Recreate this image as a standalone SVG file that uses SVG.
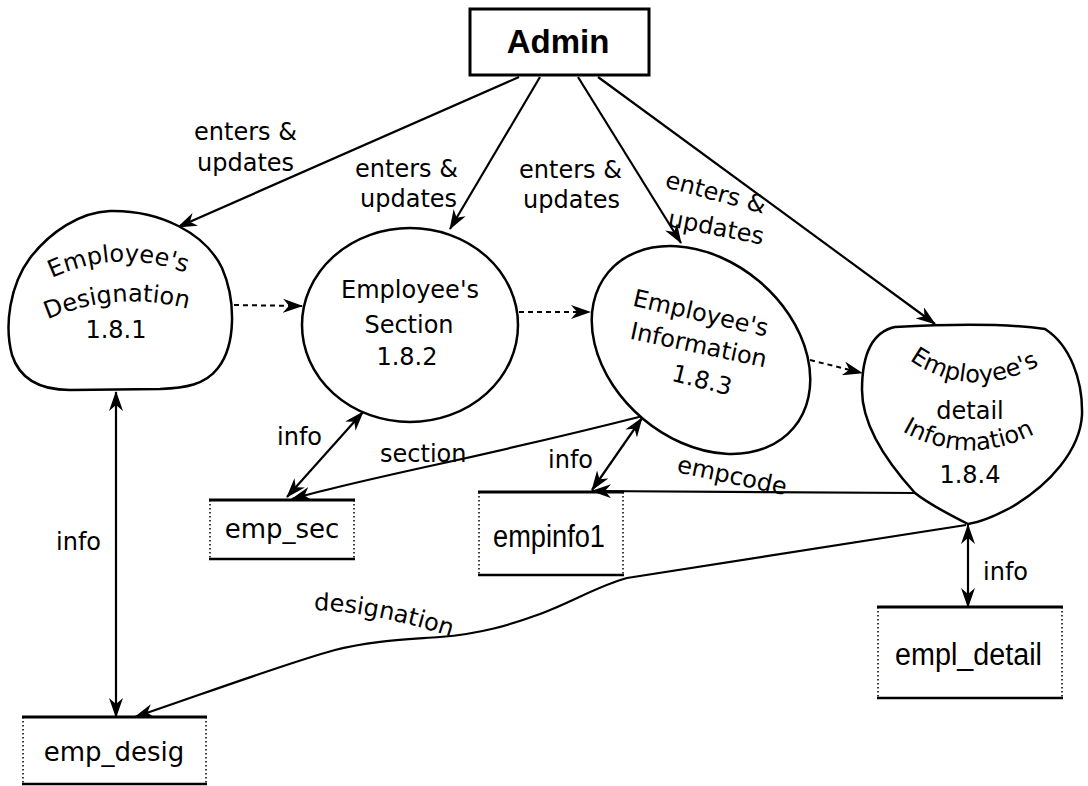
<svg xmlns="http://www.w3.org/2000/svg" width="1088" height="786" viewBox="0 0 1088 786">
<defs>
<style>
.t{font-family:"DejaVu Sans","Liberation Sans",sans-serif;font-size:24px;fill:#000}
.st{font-family:"DejaVu Sans","Liberation Sans",sans-serif;font-size:26px;fill:#000}
.nar{font-family:"Liberation Sans","DejaVu Sans",sans-serif;font-size:31px;fill:#000}
.node{fill:#fff;stroke:#000;stroke-width:2.5}
.flow{fill:none;stroke:#000;stroke-width:2.2}
.dash{fill:none;stroke:#000;stroke-width:2;stroke-dasharray:5 4}
.stop{stroke:#000;stroke-width:3}
.sbot{stroke:#000;stroke-width:2.5}
.sside{stroke:#000;stroke-width:1.5;stroke-dasharray:1.5 2.5}
</style>
<marker id="ah" viewBox="0 0 20 14" refX="19" refY="7" markerWidth="20" markerHeight="14" markerUnits="userSpaceOnUse" orient="auto-start-reverse">
<path d="M0,0 L20,7 L0,14 L6,7 Z" fill="#000"/>
</marker>
<path id="p1a" d="M 42 283 Q 118 243 196 277"/>
<path id="p1b" d="M 40 323 Q 115 287 196 311"/>
<path id="p4a" d="M 898 351 Q 968 410 1052 358"/>
<path id="p4b" d="M 895 427 Q 967 472 1042 430"/>
<path id="pdes" d="M 314 610 Q 380 612 464 641"/>
</defs>
<rect width="1088" height="786" fill="#fff"/>

<g id="connectors">
<path class="flow" d="M 519 77 L 178 227" marker-end="url(#ah)"/>
<path class="flow" d="M 540 77 L 450 229" marker-end="url(#ah)"/>
<path class="flow" d="M 578 77 L 681 243" marker-end="url(#ah)"/>
<path class="flow" d="M 598 77 L 935 324" marker-end="url(#ah)"/>
<path class="dash" d="M 234 305 L 302 306" marker-end="url(#ah)"/>
<path class="dash" d="M 519 312 L 590 312" marker-end="url(#ah)"/>
<path class="dash" d="M 810 360 L 862 373" marker-end="url(#ah)"/>
<path class="flow" d="M 116 392 L 116 717" marker-start="url(#ah)" marker-end="url(#ah)"/>
<path class="flow" d="M 363 412 L 287 497" marker-start="url(#ah)" marker-end="url(#ah)"/>
<path class="flow" d="M 643 416 C 560 437 480 455 430 466 C 380 477 330 488 292 499" marker-end="url(#ah)"/>
<path class="flow" d="M 642 418 L 592 490" marker-start="url(#ah)" marker-end="url(#ah)"/>
<path class="flow" d="M 915 493 L 592 491" marker-end="url(#ah)"/>
<path class="flow" d="M 966 525 L 627 578 C 600 585 570 603 540 614 C 510 625 480 634 440 637 C 400 640 370 641 335 650 C 290 662 200 695 135 717" marker-end="url(#ah)"/>
<path class="flow" d="M 968 525 L 968 607" marker-start="url(#ah)" marker-end="url(#ah)"/>

<text class="t" x="194" y="140">enters &amp;</text>
<text class="t" x="197" y="171">updates</text>
<text class="t" x="355" y="177">enters &amp;</text>
<text class="t" x="360" y="207">updates</text>
<text class="t" x="519" y="178">enters &amp;</text>
<text class="t" x="523" y="208">updates</text>
<text class="t" transform="translate(664,187) rotate(15)">enters &amp;</text>
<text class="t" transform="translate(667,226) rotate(11)">updates</text>
<text class="t" x="56" y="550">info</text>
<text class="t" x="277" y="445">info</text>
<text class="t" x="380" y="462">section</text>
<text class="t" x="548" y="468">info</text>
<text class="t" transform="translate(676,472) rotate(12)">empcode</text>
<text class="t"><textPath href="#pdes">designation</textPath></text>
<text class="t" x="983" y="580">info</text>
</g>

<g id="admin">
<rect x="470" y="9" width="179" height="66" fill="#fff" stroke="#000" stroke-width="3"/>
<text x="558" y="53" text-anchor="middle" font-family="Liberation Sans, Arial, sans-serif" font-weight="bold" font-size="33">Admin</text>
</g>

<g id="p181">
<path class="node" d="M 110 211 C 160 210 205 233 222 268 C 236 300 236 345 218 368 C 205 385 185 388 160 389 L 70 390 C 40 390 20 380 12 355 C 4 325 10 285 30 258 C 50 232 80 212 110 211 Z"/>
<text class="t" text-anchor="middle"><textPath href="#p1a" startOffset="50%">Employee's</textPath></text>
<text class="t" text-anchor="middle"><textPath href="#p1b" startOffset="50%">Designation</textPath></text>
<text class="t" x="116" y="338" text-anchor="middle">1.8.1</text>
</g>

<g id="p182">
<ellipse class="node" cx="410" cy="325" rx="108" ry="97"/>
<text class="t" x="410" y="298" text-anchor="middle">Employee's</text>
<text class="t" x="409" y="333" text-anchor="middle">Section</text>
<text class="t" x="407" y="365" text-anchor="middle">1.8.2</text>
</g>

<g id="p183">
<ellipse class="node" cx="701" cy="350" rx="121" ry="90" transform="rotate(40 701 350)"/>
<text class="t" text-anchor="middle" transform="translate(699,321) rotate(13)">Employee's</text>
<text class="t" text-anchor="middle" transform="translate(697,353) rotate(12)">Information</text>
<text class="t" text-anchor="middle" transform="translate(700,388) rotate(14)">1.8.3</text>
</g>

<g id="p184">
<path class="node" d="M 895 327 C 950 324 1010 324 1045 329 C 1070 345 1083 380 1082 415 C 1080 450 1050 485 1010 508 C 995 516 982 522 968 524 C 950 515 930 505 915 493 C 885 460 862 425 862 390 C 862 355 872 332 895 327 Z"/>
<text class="t" text-anchor="middle"><textPath href="#p4a" startOffset="50%">Employee's</textPath></text>
<text class="t" x="970" y="419" text-anchor="middle">detail</text>
<text class="t" text-anchor="middle"><textPath href="#p4b" startOffset="50%">Information</textPath></text>
<text class="t" x="970" y="483" text-anchor="middle">1.8.4</text>
</g>

<g id="emp_sec">
<line class="stop" x1="209" y1="500" x2="355" y2="500"/>
<line class="sbot" x1="209" y1="559" x2="355" y2="559"/>
<line class="sside" x1="210" y1="500" x2="210" y2="559"/>
<line class="sside" x1="354" y1="500" x2="354" y2="559"/>
<text class="st" x="282" y="538" text-anchor="middle">emp_sec</text>
</g>

<g id="empinfo1">
<line class="stop" x1="478" y1="492" x2="624" y2="492"/>
<line class="sbot" x1="478" y1="575" x2="624" y2="575"/>
<line class="sside" x1="479" y1="492" x2="479" y2="575"/>
<line class="sside" x1="623" y1="492" x2="623" y2="575"/>
<text class="nar" x="493" y="547" textLength="112" lengthAdjust="spacingAndGlyphs">empinfo1</text>
</g>

<g id="empl_detail">
<line class="stop" x1="877" y1="607" x2="1063" y2="607"/>
<line class="sbot" x1="877" y1="698" x2="1063" y2="698"/>
<line class="sside" x1="878" y1="607" x2="878" y2="698"/>
<line class="sside" x1="1062" y1="607" x2="1062" y2="698"/>
<text class="nar" x="895" y="665" textLength="147" lengthAdjust="spacingAndGlyphs">empl_detail</text>
</g>

<g id="emp_desig">
<line class="stop" x1="22" y1="717" x2="207" y2="717"/>
<line class="sbot" x1="22" y1="784" x2="207" y2="784"/>
<line class="sside" x1="23" y1="717" x2="23" y2="784"/>
<line class="sside" x1="206" y1="717" x2="206" y2="784"/>
<text class="st" x="114" y="761" text-anchor="middle">emp_desig</text>
</g>
</svg>
